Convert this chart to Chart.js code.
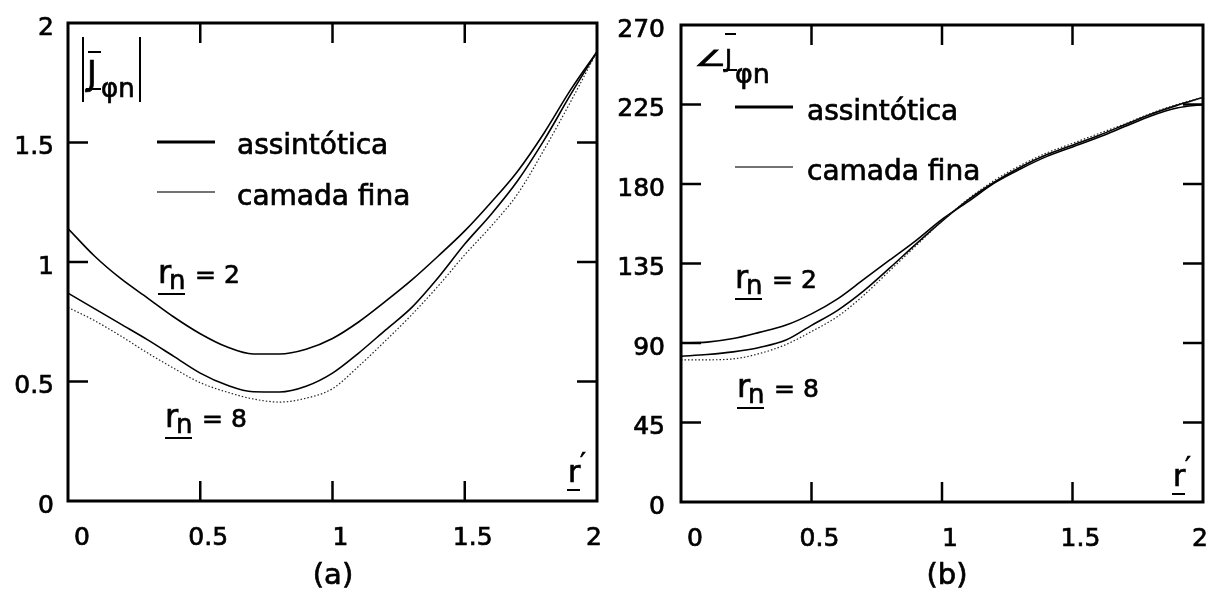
<!DOCTYPE html>
<html>
<head>
<meta charset="utf-8">
<script src="https://cdn.jsdelivr.net/npm/chart.js@4/dist/chart.umd.min.js"></script>
<style>
  html, body { margin: 0; padding: 0; background: #fff; }
  #wrap { position: relative; width: 1213px; height: 595px; }
  #wrap canvas { position: absolute; left: 0; top: 0; }
</style>
</head>
<body>
<div id="wrap">
  <canvas id="magChart" width="1213" height="595"></canvas>
  <canvas id="phaseChart" width="1213" height="595"></canvas>
</div>
<script>
// r' sample positions shared by every curve
const R_PRIME = [0, 0.1, 0.2, 0.3, 0.4, 0.5, 0.6, 0.7, 0.8, 0.9, 1.0,
                 1.1, 1.2, 1.3, 1.4, 1.5, 1.6, 1.7, 1.8, 1.9, 2.0];

// |J_phi_n| : magnitude
const MAG_ASSINT_RN2 = [1.14, 1.025, 0.93, 0.85, 0.77, 0.70, 0.645, 0.615, 0.615, 0.635, 0.68,
                        0.75, 0.835, 0.925, 1.025, 1.13, 1.25, 1.38, 1.54, 1.72, 1.88];
const MAG_ASSINT_RN8 = [0.87, 0.805, 0.74, 0.675, 0.605, 0.535, 0.485, 0.457, 0.456, 0.48, 0.535,
                        0.62, 0.715, 0.81, 0.935, 1.075, 1.20, 1.34, 1.51, 1.70, 1.88];
const MAG_FINA_RN8   = [0.81, 0.755, 0.69, 0.62, 0.555, 0.495, 0.456, 0.427, 0.414, 0.43, 0.47,
                        0.565, 0.67, 0.78, 0.90, 1.03, 1.15, 1.285, 1.47, 1.67, 1.88];

// angle of J_phi_n : phase in degrees
const PHASE_ASSINT_RN2 = [90, 90.5, 92.5, 96, 100, 106.5, 115, 126, 137, 148, 160,
                          170, 180.5, 188.5, 195.5, 201, 206.5, 212.5, 218.5, 223, 225];
const PHASE_ASSINT_RN8 = [82.5, 83.5, 85, 87.5, 91.5, 100, 108.5, 119.5, 132.5, 146, 159,
                          171, 181, 189.5, 196.5, 202, 207.5, 213.5, 219.5, 224.5, 229];
const PHASE_FINA_RN8   = [80.5, 80.5, 81, 84, 89, 96.5, 105, 117, 131, 145, 159,
                          171.5, 182, 190.5, 197.5, 203, 208.5, 214, 220, 225, 229];

// tick values and their labels
const X_TICKS = [0, 0.5, 1, 1.5, 2];
const X_TICK_LABELS = ['0', '0.5', '1', '1.5', '2'];
const MAG_TICKS = [0, 0.5, 1, 1.5, 2];
const MAG_TICK_LABELS = ['0', '0.5', '1', '1.5', '2'];
const PHASE_TICKS = [0, 45, 90, 135, 180, 225, 270];
const PHASE_TICK_LABELS = ['0', '45', '90', '135', '180', '225', '270'];

const FONT = '"DejaVu Sans", "Liberation Sans", Arial, sans-serif';

function points(ys) {
  return R_PRIME.map((x, i) => ({ x: x, y: ys[i] }));
}

const solidStyle = {
  borderColor: '#000', borderWidth: 1.6, pointRadius: 0, fill: false,
  cubicInterpolationMode: 'monotone'
};
const dottedStyle = {
  borderColor: '#222', borderWidth: 1.2, borderDash: [1.5, 2], pointRadius: 0, fill: false,
  cubicInterpolationMode: 'monotone'
};

// ---- drawing helpers ----
function text(ctx, s, x, y, size, align) {
  ctx.font = size + 'px ' + FONT;
  ctx.textAlign = align || 'left';
  ctx.textBaseline = 'alphabetic';
  ctx.fillStyle = '#000';
  ctx.strokeStyle = '#000';
  ctx.lineWidth = 0.7;
  ctx.fillText(s, x, y);
  ctx.strokeText(s, x, y);
}
function seg(ctx, x1, y1, x2, y2, w, color) {
  ctx.beginPath();
  ctx.strokeStyle = color || '#000';
  ctx.lineWidth = w;
  ctx.moveTo(x1, y1);
  ctx.lineTo(x2, y2);
  ctx.stroke();
}
// r with underlined subscript n, then "= value"
function rnLabel(ctx, x, y, value) {
  text(ctx, 'r', x, y, 32);
  text(ctx, 'n', x + 11, y + 6, 26);
  seg(ctx, x, y + 11, x + 27, y + 11, 2);
  text(ctx, '= ' + value, x + 37, y, 25);
}
// underlined r with prime
function rPrimeLabel(ctx, x, y) {
  text(ctx, 'r', x, y, 30);
  seg(ctx, x - 1, y + 8, x + 12, y + 8, 2);
  text(ctx, '\u2032', x + 12, y - 10, 26);
}
function legend(ctx, x1, x2, x3, y1, b1, y2, b2) {
  seg(ctx, x1, y1, x2, y1, 3);
  text(ctx, 'assintótica', x3, b1, 28);
  seg(ctx, x1, y2, x2, y2, 1.3, '#444');
  text(ctx, 'camada fina', x3, b2, 28);
}

// frame around the plot area, inward tick marks on all four sides,
// and the r' tick labels under the bottom edge
const framePlugin = {
  id: 'frame',
  afterDraw(chart, args, opts) {
    const { ctx, chartArea: a, scales: { x, y } } = chart;
    ctx.save();
    ctx.lineCap = 'butt';
    x.ticks.forEach(t => {
      if (t.value <= x.min || t.value >= x.max) return;
      const px = x.getPixelForValue(t.value);
      seg(ctx, px, a.bottom, px, a.bottom - 20, 2.5);
      seg(ctx, px, a.top, px, a.top + 20, 2.5);
    });
    y.ticks.forEach(t => {
      if (t.value <= y.min || t.value >= y.max) return;
      const py = y.getPixelForValue(t.value);
      seg(ctx, a.left, py, a.left + 20, py, 2.5);
      seg(ctx, a.right, py, a.right - 20, py, 2.5);
    });
    ctx.lineWidth = 3;
    ctx.strokeStyle = '#000';
    ctx.strokeRect(a.left, a.top, a.width, a.height);

    // r' labels sit slightly right of their ticks, the end ones pulled inward
    X_TICKS.forEach((v, i) => {
      const nudge = v === x.min ? 14 : (v === x.max ? -3 : 8);
      text(ctx, X_TICK_LABELS[i], x.getPixelForValue(v) + nudge, a.bottom + 44, 25, 'center');
    });

    if (opts.annotate) opts.annotate(ctx, a);
    ctx.restore();
  }
};

function makeChart(id, datasets, yTicks, yLabels, yMax, geom, annotate) {
  return new Chart(document.getElementById(id), {
    type: 'line',
    data: { datasets: datasets },
    options: {
      responsive: false,
      animation: false,
      devicePixelRatio: 1,
      layout: {
        autoPadding: false,
        padding: { left: 0, top: geom.top, right: geom.right, bottom: 0 }
      },
      plugins: {
        legend: { display: false },
        tooltip: { enabled: false },
        frame: { annotate: annotate }
      },
      scales: {
        x: {
          type: 'linear', min: 0, max: 2,
          grid: { display: false, drawTicks: false },
          border: { display: false },
          afterBuildTicks: s => { s.ticks = X_TICKS.map(v => ({ value: v })); },
          afterFit: s => { s.height = geom.xHeight; s.paddingLeft = 0; s.paddingRight = 0; },
          ticks: { display: false }
        },
        y: {
          type: 'linear', min: 0, max: yMax,
          grid: { display: false, drawTicks: false },
          border: { display: false },
          afterBuildTicks: s => { s.ticks = yTicks.map(v => ({ value: v })); },
          afterFit: s => { s.width = geom.yWidth; s.paddingTop = 0; s.paddingBottom = 0; },
          ticks: {
            color: '#000', font: { family: FONT, size: 25 },
            textStrokeColor: '#000', textStrokeWidth: 0.7,
            padding: geom.yPad, labelOffset: 5, autoSkip: false,
            callback: (v, i) => yLabels[i]
          }
        }
      }
    },
    plugins: [framePlugin]
  });
}

// (a) magnitude
makeChart('magChart', [
  Object.assign({ label: 'camada fina, rn = 8', data: points(MAG_FINA_RN8) }, dottedStyle),
  Object.assign({ label: 'assintótica, rn = 2', data: points(MAG_ASSINT_RN2) }, solidStyle),
  Object.assign({ label: 'assintótica, rn = 8', data: points(MAG_ASSINT_RN8) }, solidStyle)
], MAG_TICKS, MAG_TICK_LABELS, 2, { top: 23, right: 616, xHeight: 94, yWidth: 68, yPad: 14 }, (ctx, a) => {
  // axis title |J phi n|
  seg(ctx, 83, 37, 83, 102, 2);
  seg(ctx, 140, 37, 140, 102, 2);
  text(ctx, 'J', 87, 85, 33);
  seg(ctx, 88, 52, 101, 52, 2);
  seg(ctx, 86, 89, 101, 89, 2);
  text(ctx, '\u03C6n', 101, 97, 26);
  legend(ctx, 157, 215, 237, 142, 154, 192, 205);
  rnLabel(ctx, 158, 283, '2');
  rnLabel(ctx, 165, 427, '8');
  rPrimeLabel(ctx, 568, 482);
  text(ctx, '(a)', 333, 584, 29, 'center');
});

// (b) phase
makeChart('phaseChart', [
  Object.assign({ label: 'camada fina, rn = 8', data: points(PHASE_FINA_RN8) }, dottedStyle),
  Object.assign({ label: 'assintótica, rn = 2', data: points(PHASE_ASSINT_RN2) }, solidStyle),
  Object.assign({ label: 'assintótica, rn = 8', data: points(PHASE_ASSINT_RN8) }, solidStyle)
], PHASE_TICKS, PHASE_TICK_LABELS, 270, { top: 25, right: 10, xHeight: 93, yWidth: 681, yPad: 16 }, (ctx, a) => {
  // axis title: angle of J phi n (angle sign widened and flattened)
  ctx.save();
  ctx.translate(694, 66);
  ctx.scale(1.4, 0.85);
  text(ctx, '\u2220', 0, 0, 26);
  ctx.restore();
  text(ctx, 'J', 725, 67, 24);
  seg(ctx, 725, 34, 736, 34, 2);
  seg(ctx, 723, 70, 737, 70, 2);
  text(ctx, '\u03C6n', 735, 83, 27);
  legend(ctx, 735, 793, 807, 107, 120, 167, 180);
  rnLabel(ctx, 735, 288, '2');
  rnLabel(ctx, 737, 397, '8');
  rPrimeLabel(ctx, 1173, 486);
  text(ctx, '(b)', 947, 584, 29, 'center');
});
</script>
</body>
</html>
